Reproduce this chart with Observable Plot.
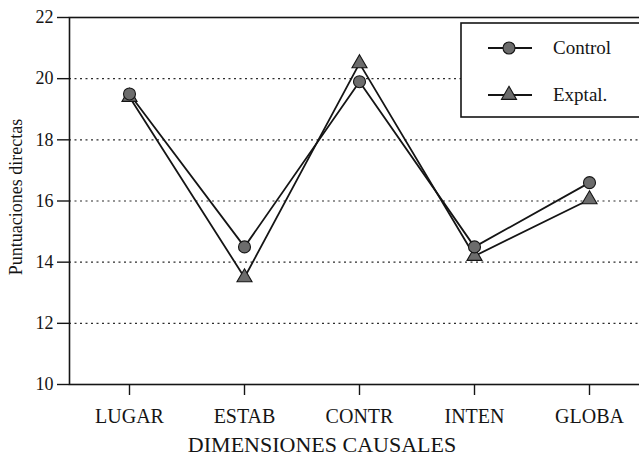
<!DOCTYPE html>
<html>
<head>
<meta charset="utf-8">
<script src="https://cdn.jsdelivr.net/npm/d3@7"></script>
<script src="https://cdn.jsdelivr.net/npm/@observablehq/plot@0.6"></script>
<style>
  html, body { margin: 0; padding: 0; background: #fff; }
  #chart { position: relative; width: 639px; height: 455px; overflow: hidden; }
</style>
</head>
<body>
<div id="chart"></div>
<script>
const categories = ["LUGAR", "ESTAB", "CONTR", "INTEN", "GLOBA"];
const control = [19.5, 14.5, 19.9, 14.5, 16.6];
const exptal = [19.4, 13.5, 20.5, 14.2, 16.05];
const yTicks = [10, 12, 14, 16, 18, 20, 22];
const gridTicks = [12, 14, 16, 18, 20];
const seriesNames = ["Control", "Exptal."];

const rows = [];
categories.forEach((c, i) => {
  rows.push({cat: c, value: control[i], series: seriesNames[0]});
  rows.push({cat: c, value: exptal[i], series: seriesNames[1]});
});
const ctrlRows = rows.filter(d => d.series === seriesNames[0]);
const expRows = rows.filter(d => d.series === seriesNames[1]);

const ink = "#151515";
const markerFill = "#6c6c6c";
const circleR = 6;
const triR = 5.6;

const chart = Plot.plot({
  width: 639,
  height: 455,
  marginTop: 17,
  marginBottom: 71,
  marginLeft: 69,
  marginRight: -9,
  style: {fontFamily: "Liberation Serif", fontSize: "18px", background: "#fff", color: ink},
  x: {type: "point", domain: categories, padding: 0.5},
  y: {domain: [10, 22]},
  marks: [
    Plot.gridY(gridTicks, {stroke: ink, strokeOpacity: 0.9, strokeWidth: 1.2, strokeDasharray: "2,3.5"}),
    Plot.frame({stroke: ink, strokeWidth: 1.6}),
    Plot.axisY(yTicks, {tickSize: 12, tickPadding: 4, label: null, fontSize: 18, strokeWidth: 1.4}),
    Plot.axisX({tickSize: 11, tickPadding: 13, label: null, fontSize: 20, strokeWidth: 1.4}),
    Plot.text(["Puntuaciones directas"], {frameAnchor: "left", textAnchor: "middle", rotate: -90, dx: -53, dy: -4, fontSize: 18, fill: ink}),
    Plot.text(["DIMENSIONES CAUSALES"], {frameAnchor: "bottom", dy: 67, dx: -37, fontSize: 22, fill: ink}),
    Plot.line(ctrlRows, {x: "cat", y: "value", stroke: ink, strokeWidth: 1.8}),
    Plot.line(expRows, {x: "cat", y: "value", stroke: ink, strokeWidth: 1.8}),
    Plot.dot(expRows, {x: "cat", y: "value", symbol: "triangle", r: triR, fill: markerFill, stroke: ink, strokeWidth: 1.1}),
    Plot.dot(ctrlRows, {x: "cat", y: "value", symbol: "circle", r: circleR, fill: markerFill, stroke: ink, strokeWidth: 1.1})
  ]
});

document.getElementById("chart").appendChild(chart);

// Legend box inside the plot area
const svg = d3.select(chart);
const lg = svg.append("g").attr("font-family", "Liberation Serif").attr("text-anchor", "start");
lg.append("rect").attr("x", 461).attr("y", 23).attr("width", 200).attr("height", 94)
  .attr("fill", "#fff").attr("stroke", ink).attr("stroke-width", 1.6);
const entries = [
  {name: seriesNames[0], y: 48, sym: d3.symbolCircle, r: circleR},
  {name: seriesNames[1], y: 95, sym: d3.symbolTriangle, r: triR}
];
entries.forEach(e => {
  lg.append("line").attr("x1", 488).attr("x2", 532).attr("y1", e.y).attr("y2", e.y)
    .attr("stroke", ink).attr("stroke-width", 1.8);
  lg.append("path").attr("transform", `translate(509,${e.y})`)
    .attr("d", d3.symbol(e.sym, e.r * e.r * Math.PI)())
    .attr("fill", markerFill).attr("stroke", ink).attr("stroke-width", 1.1);
  lg.append("text").attr("x", 553).attr("y", e.y).attr("dy", "0.32em")
    .attr("font-size", 19).attr("fill", ink).text(e.name);
});
</script>
</body>
</html>
